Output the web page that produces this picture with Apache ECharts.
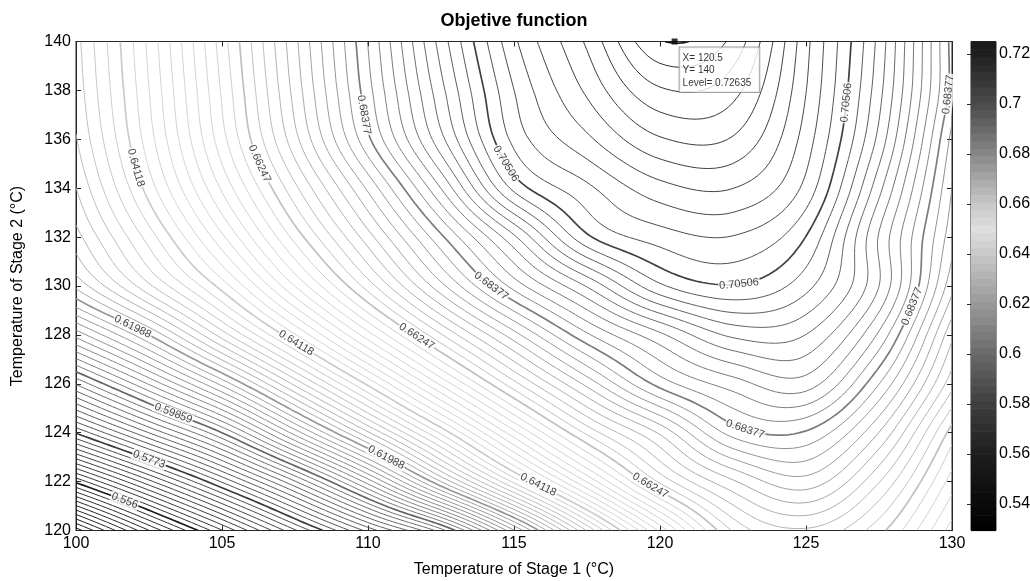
<!DOCTYPE html>
<html>
<head>
<meta charset="utf-8">
<title>Objetive function</title>
<script src="https://cdn.jsdelivr.net/npm/echarts@6.0.0/dist/echarts.min.js"></script>
<style>
html,body{margin:0;padding:0;background:#ffffff;}
#chart{width:1030px;height:581px;}
</style>
</head>
<body>
<div id="chart"></div>
<script>
// ---------------- data ----------------
// grid nodes (Temperature of Stage 1 along x, Temperature of Stage 2 along y)
const tempStage1 = [100, 102.5, 105, 107.5, 110, 112.5, 115, 117.5, 120, 122.5, 125, 127.5, 130];
const tempStage2 = [120, 122, 124, 126, 128, 130, 132, 134, 136, 138, 140];
// estimated objective-function value at each node, one row per Stage-2 temperature
const objAt120 = [0.5335, 0.5474, 0.5601, 0.5727, 0.5844, 0.5955, 0.6133, 0.6328, 0.6502, 0.6648, 0.6685, 0.6632, 0.6530];
const objAt122 = [0.5565, 0.5681, 0.5797, 0.5920, 0.6060, 0.6220, 0.6375, 0.6520, 0.6650, 0.6728, 0.6765, 0.6690, 0.6572];
const objAt124 = [0.5775, 0.5880, 0.5986, 0.6123, 0.6259, 0.6395, 0.6532, 0.6651, 0.6735, 0.6825, 0.6835, 0.6752, 0.6615];
const objAt126 = [0.5946, 0.6052, 0.6163, 0.6290, 0.6417, 0.6544, 0.6660, 0.6759, 0.6846, 0.6891, 0.6912, 0.6817, 0.6675];
const objAt128 = [0.6100, 0.6199, 0.6315, 0.6431, 0.6552, 0.6665, 0.6765, 0.6855, 0.6918, 0.6970, 0.6965, 0.6876, 0.6715];
const objAt130 = [0.6225, 0.6322, 0.6421, 0.6540, 0.6656, 0.6767, 0.6867, 0.6946, 0.7025, 0.7049, 0.7015, 0.6923, 0.6759];
const objAt132 = [0.6275, 0.6379, 0.6492, 0.6611, 0.6722, 0.6833, 0.6940, 0.7046, 0.7082, 0.7092, 0.7050, 0.6921, 0.6782];
const objAt134 = [0.6305, 0.6422, 0.6543, 0.6662, 0.6778, 0.6902, 0.7035, 0.7088, 0.7128, 0.7136, 0.7086, 0.6951, 0.6795];
const objAt136 = [0.6325, 0.6445, 0.6574, 0.6703, 0.6833, 0.6959, 0.7078, 0.7131, 0.7176, 0.7176, 0.7104, 0.6980, 0.6810];
const objAt138 = [0.6335, 0.6454, 0.6585, 0.6718, 0.6851, 0.6980, 0.7093, 0.7161, 0.7218, 0.7207, 0.7115, 0.6994, 0.6830];
const objAt140 = [0.6340, 0.6460, 0.6593, 0.6726, 0.6860, 0.6996, 0.7110, 0.7182, 0.7262, 0.7236, 0.7121, 0.7001, 0.6830];

// contour levels: labelled ones, with 10 levels per labelled step
const labeledLevels = [0.556, 0.5773, 0.59859, 0.61988, 0.64118, 0.66247, 0.68377, 0.70506, 0.72635];
const levelsPerLabel = 10;
const levelsBelowFirstLabel = 12;

// where the inline contour labels sit: [level, Stage1, Stage2]
const labelAnchors = [
  [0.556, 101.6, 121.25],
  [0.5773, 102.46, 122.95],
  [0.59859, 103.3, 124.72],
  [0.61988, 101.95, 128.33], [0.61988, 110.6, 122.93],
  [0.64118, 101.95, 134.8], [0.64118, 107.6, 127.65], [0.64118, 115.8, 121.86],
  [0.66247, 106.2, 135.0], [0.66247, 111.7, 127.86], [0.66247, 119.6, 121.8],
  [0.68377, 109.8, 137.0], [0.68377, 114.1, 129.75], [0.68377, 123.0, 124.04], [0.68377, 128.7, 129.2], [0.68377, 129.85, 137.8],
  [0.70506, 114.6, 134.95], [0.70506, 122.75, 130.25], [0.70506, 126.7, 137.5]
];

// data cursor
const dataTipX = 120.5, dataTipY = 140, dataTipLevel = 0.72635;

// axes / colour bar
const xTicks = [100, 105, 110, 115, 120, 125, 130];
const yTicks = [120, 122, 124, 126, 128, 130, 132, 134, 136, 138, 140];
const colorbarTicks = [0.54, 0.56, 0.58, 0.6, 0.62, 0.64, 0.66, 0.68, 0.7, 0.72];
const colorbarMin = 0.5294, colorbarMax = 0.7250;
const colorbarBands = 64;
// grey colormap: [value, grey level 0..255]
const grayStops = [[0.5294, 0], [0.545, 14], [0.56, 30], [0.58, 62], [0.60, 105], [0.62, 152],
                   [0.64, 200], [0.65, 222], [0.66, 200], [0.68, 135], [0.70, 75], [0.72, 32], [0.7264, 22]];

// ---------------- helpers ----------------
const FONT = "'Liberation Sans', Arial, Helvetica, sans-serif";
function grayOf(v) {
  if (v <= grayStops[0][0]) return grayStops[0][1];
  for (let k = 1; k < grayStops.length; k++) {
    if (v <= grayStops[k][0]) {
      const a = grayStops[k - 1], b = grayStops[k];
      return a[1] + (b[1] - a[1]) * (v - a[0]) / (b[0] - a[0]);
    }
  }
  return grayStops[grayStops.length - 1][1];
}
function rgbGray(g) { g = Math.round(Math.max(0, Math.min(255, g))); return 'rgb(' + g + ',' + g + ',' + g + ')'; }

const zRows = [objAt120, objAt122, objAt124, objAt126, objAt128, objAt130, objAt132, objAt134, objAt136, objAt138, objAt140];
const nx = tempStage1.length, ny = tempStage2.length;
function node(i, j) {
  if (i < 0) return 2 * node(0, j) - node(1, j);
  if (i > nx - 1) return 2 * node(nx - 1, j) - node(nx - 2, j);
  if (j < 0) return 2 * node(i, 0) - node(i, 1);
  if (j > ny - 1) return 2 * node(i, ny - 1) - node(i, ny - 2);
  return zRows[j][i];
}
function cr(p0, p1, p2, p3, t) {
  return 0.5 * (2 * p1 + (-p0 + p2) * t + (2 * p0 - 5 * p1 + 4 * p2 - p3) * t * t + (-p0 + 3 * p1 - 3 * p2 + p3) * t * t * t);
}
function sample(gx, gy) {
  let i0 = Math.floor(gx), j0 = Math.floor(gy);
  if (i0 > nx - 2) i0 = nx - 2;
  if (j0 > ny - 2) j0 = ny - 2;
  const tx = gx - i0, ty = gy - j0;
  const r = [];
  for (let dj = -1; dj <= 2; dj++) {
    r.push(cr(node(i0 - 1, j0 + dj), node(i0, j0 + dj), node(i0 + 1, j0 + dj), node(i0 + 2, j0 + dj), tx));
  }
  return cr(r[0], r[1], r[2], r[3], ty);
}

// fine field for the contour tracer
const F = 12;
const nxF = (nx - 1) * F + 1, nyF = (ny - 1) * F + 1;
const xF = [], yF = [], Z = [];
for (let i = 0; i < nxF; i++) xF.push(tempStage1[0] + (tempStage1[nx - 1] - tempStage1[0]) * i / (nxF - 1));
for (let j = 0; j < nyF; j++) yF.push(tempStage2[0] + (tempStage2[ny - 1] - tempStage2[0]) * j / (nyF - 1));
let zMin = Infinity, zMax = -Infinity;
for (let j = 0; j < nyF; j++) {
  const row = new Float64Array(nxF);
  for (let i = 0; i < nxF; i++) {
    const v = sample(i / F, j / F);
    row[i] = v;
    if (v < zMin) zMin = v;
    if (v > zMax) zMax = v;
  }
  Z.push(row);
}

// level list
const levels = [];
const step0 = (labeledLevels[1] - labeledLevels[0]) / levelsPerLabel;
for (let j = levelsBelowFirstLabel; j >= 1; j--) levels.push({ v: labeledLevels[0] - j * step0, lab: false });
for (let k = 0; k < labeledLevels.length - 1; k++) {
  const d = (labeledLevels[k + 1] - labeledLevels[k]) / levelsPerLabel;
  for (let j = 0; j < levelsPerLabel; j++) levels.push({ v: labeledLevels[k] + j * d, lab: j === 0 });
}
levels.push({ v: labeledLevels[labeledLevels.length - 1], lab: true });

// marching squares + chaining
function contour(L) {
  const segs = [];
  const hk = (i, j) => (j * nxF + i) * 2;      // edge (i,j)-(i+1,j)
  const vk = (i, j) => (j * nxF + i) * 2 + 1;  // edge (i,j)-(i,j+1)
  function ip(x1, y1, v1, x2, y2, v2) { const t = (L - v1) / (v2 - v1); return [x1 + (x2 - x1) * t, y1 + (y2 - y1) * t]; }
  for (let j = 0; j < nyF - 1; j++) {
    for (let i = 0; i < nxF - 1; i++) {
      const a = Z[j][i], b = Z[j][i + 1], c = Z[j + 1][i + 1], d = Z[j + 1][i];
      const cs = (a >= L ? 1 : 0) | (b >= L ? 2 : 0) | (c >= L ? 4 : 0) | (d >= L ? 8 : 0);
      if (cs === 0 || cs === 15) continue;
      const x0 = xF[i], x1 = xF[i + 1], y0 = yF[j], y1 = yF[j + 1];
      const E = [
        () => ({ k: hk(i, j), p: ip(x0, y0, a, x1, y0, b) }),
        () => ({ k: vk(i + 1, j), p: ip(x1, y0, b, x1, y1, c) }),
        () => ({ k: hk(i, j + 1), p: ip(x0, y1, d, x1, y1, c) }),
        () => ({ k: vk(i, j), p: ip(x0, y0, a, x0, y1, d) })
      ];
      const add = (e1, e2) => { const A = E[e1](), B = E[e2](); segs.push({ k: [A.k, B.k], p: [A.p, B.p] }); };
      const center = (a + b + c + d) / 4;
      switch (cs) {
        case 1: add(3, 0); break;
        case 2: add(0, 1); break;
        case 3: add(3, 1); break;
        case 4: add(1, 2); break;
        case 5: if (center >= L) { add(0, 1); add(2, 3); } else { add(3, 0); add(1, 2); } break;
        case 6: add(0, 2); break;
        case 7: add(3, 2); break;
        case 8: add(2, 3); break;
        case 9: add(0, 2); break;
        case 10: if (center >= L) { add(3, 0); add(1, 2); } else { add(0, 1); add(2, 3); } break;
        case 11: add(1, 2); break;
        case 12: add(3, 1); break;
        case 13: add(0, 1); break;
        case 14: add(3, 0); break;
      }
    }
  }
  const map = new Map();
  segs.forEach((s, idx) => { for (let e = 0; e < 2; e++) { const k = s.k[e]; if (!map.has(k)) map.set(k, []); map.get(k).push(idx); } });
  const used = new Uint8Array(segs.length);
  const lines = [];
  function walk(startIdx, startEnd) {
    const pts = [segs[startIdx].p[startEnd]];
    let idx = startIdx, end = startEnd;
    while (true) {
      used[idx] = 1;
      const s = segs[idx], other = 1 - end;
      pts.push(s.p[other]);
      const k = s.k[other];
      let next = -1;
      for (const n of map.get(k)) { if (!used[n]) { next = n; break; } }
      if (next < 0) break;
      end = segs[next].k[0] === k ? 0 : 1;
      idx = next;
    }
    return pts;
  }
  segs.forEach((s, idx) => {
    if (used[idx]) return;
    for (let e = 0; e < 2; e++) { if (map.get(s.k[e]).length === 1) { lines.push(walk(idx, e)); return; } }
  });
  segs.forEach((s, idx) => { if (!used[idx]) lines.push(walk(idx, 0)); });
  return lines;
}

const contourLines = [];   // {level, pts}
const lineData = [];
levels.forEach(lv => {
  if (lv.v <= zMin || lv.v >= zMax) return;
  const g = Math.min(grayOf(lv.v), 205);
  contour(lv.v).forEach(pts => {
    if (pts.length < 2) return;
    contourLines.push({ level: lv.v, pts: pts });
    lineData.push({ coords: pts, lineStyle: { color: rgbGray(g), width: lv.lab ? 1.7 : 0.9, opacity: 1 } });
  });
});

// colour bar bands
const bandData = [];
for (let b = 0; b < colorbarBands; b++) {
  const lo = colorbarMin + (colorbarMax - colorbarMin) * b / colorbarBands;
  const hi = colorbarMin + (colorbarMax - colorbarMin) * (b + 1) / colorbarBands;
  bandData.push([lo, hi]);
}

// ---------------- chart ----------------
const chart = echarts.init(document.getElementById('chart'), null, { renderer: 'canvas' });
const axisCommon = {
  axisLine: { show: true, onZero: false, lineStyle: { color: '#262626', width: 1 } },
  axisTick: { show: true, inside: true, length: 5, lineStyle: { color: '#262626', width: 1 } },
  splitLine: { show: false }
};

const option = {
  animation: false,
  backgroundColor: '#ffffff',
  title: {
    text: 'Objetive function', left: 514, top: 12, padding: 0, textAlign: 'center',
    textStyle: { fontFamily: FONT, fontSize: 18, fontWeight: 'bold', color: '#000' }
  },
  grid: [
    { left: 76, right: 78, top: 41.5, bottom: 50.5, show: true, borderColor: '#262626', borderWidth: 1, backgroundColor: '#fff', containLabel: false, outerBoundsMode: 'none' },
    { left: 971, width: 25, top: 41.5, bottom: 50.5, show: true, borderColor: '#262626', borderWidth: 1, containLabel: false, outerBoundsMode: 'none' }
  ],
  xAxis: [
    Object.assign({}, axisCommon, {
      gridIndex: 0, type: 'value', min: xTicks[0], max: xTicks[xTicks.length - 1], interval: 5, position: 'bottom',
      axisLabel: { show: true, fontFamily: FONT, fontSize: 16, color: '#000', margin: 5, showMinLabel: true, showMaxLabel: true },
      name: 'Temperature of Stage 1 (°C)', nameLocation: 'middle', nameGap: 31,
      nameTextStyle: { fontFamily: FONT, fontSize: 16, color: '#000' }
    }),
    Object.assign({}, axisCommon, {
      gridIndex: 0, type: 'value', min: xTicks[0], max: xTicks[xTicks.length - 1], interval: 5, position: 'top',
      axisLabel: { show: false }
    }),
    { gridIndex: 1, type: 'value', min: 0, max: 1, show: false }
  ],
  yAxis: [
    Object.assign({}, axisCommon, {
      gridIndex: 0, type: 'value', min: yTicks[0], max: yTicks[yTicks.length - 1], interval: 2, position: 'left',
      axisLabel: { show: true, fontFamily: FONT, fontSize: 16, color: '#000', margin: 5, showMinLabel: true, showMaxLabel: true },
      name: 'Temperature of Stage 2 (°C)', nameLocation: 'middle', nameGap: 50,
      nameTextStyle: { fontFamily: FONT, fontSize: 16, color: '#000' }
    }),
    Object.assign({}, axisCommon, {
      gridIndex: 0, type: 'value', min: yTicks[0], max: yTicks[yTicks.length - 1], interval: 2, position: 'right',
      axisLabel: { show: false }
    }),
    {
      gridIndex: 1, type: 'value', min: colorbarMin, max: colorbarMax, position: 'right',
      axisLine: { show: true, lineStyle: { color: '#262626' } },
      axisTick: { show: true, inside: true, length: 4, customValues: colorbarTicks, lineStyle: { color: '#262626' } },
      axisLabel: { show: true, customValues: colorbarTicks, fontFamily: FONT, fontSize: 16, color: '#000', margin: 3,
                   formatter: v => String(parseFloat(Number(v).toFixed(2))) },
      splitLine: { show: false }
    },
    {
      gridIndex: 1, type: 'value', min: colorbarMin, max: colorbarMax, position: 'left',
      axisLine: { show: true, lineStyle: { color: '#262626' } },
      axisTick: { show: true, inside: true, length: 4, customValues: colorbarTicks, lineStyle: { color: '#262626' } },
      axisLabel: { show: false },
      splitLine: { show: false }
    }
  ],
  series: [
    {
      type: 'lines', name: 'contours', coordinateSystem: 'cartesian2d', xAxisIndex: 0, yAxisIndex: 0,
      polyline: true, silent: true, z: 2, lineStyle: { opacity: 1 }, data: lineData
    },
    {
      type: 'custom', name: 'colorbar', xAxisIndex: 2, yAxisIndex: 2, silent: true, z: 2,
      data: bandData,
      renderItem: function (params, api) {
        const lo = api.value(0), hi = api.value(1);
        const p1 = api.coord([0, hi]), p2 = api.coord([1, lo]);
        return {
          type: 'rect',
          shape: { x: p1[0], y: p1[1], width: p2[0] - p1[0], height: p2[1] - p1[1] + 0.6 },
          style: { fill: rgbGray(grayOf((lo + hi) / 2)) }
        };
      }
    }
  ]
};
chart.setOption(option);

// contour labels placed on the traced contours, rotated along them
const p00 = chart.convertToPixel({ gridIndex: 0 }, [tempStage1[0], tempStage2[0]]);
const p11 = chart.convertToPixel({ gridIndex: 0 }, [tempStage1[nx - 1], tempStage2[ny - 1]]);
const sx = (p11[0] - p00[0]) / (tempStage1[nx - 1] - tempStage1[0]);
const sy = (p11[1] - p00[1]) / (tempStage2[ny - 1] - tempStage2[0]);
const labelData = [];
labelAnchors.forEach(an => {
  const L = an[0];
  let best = null, bd = Infinity;
  contourLines.forEach(cl => {
    if (Math.abs(cl.level - L) > 1e-7) return;
    cl.pts.forEach((p, idx) => {
      const dx = (p[0] - an[1]) * sx, dy = (p[1] - an[2]) * sy;
      const dd = dx * dx + dy * dy;
      if (dd < bd) { bd = dd; best = { pts: cl.pts, idx: idx }; }
    });
  });
  let pos = [an[1], an[2]], ang = 0;
  if (best) {
    const pts = best.pts;
    const i1 = Math.max(0, best.idx - 3), i2 = Math.min(pts.length - 1, best.idx + 3);
    const dxp = (pts[i2][0] - pts[i1][0]) * sx, dyp = (pts[i2][1] - pts[i1][1]) * sy;
    ang = Math.atan2(-dyp, dxp) * 180 / Math.PI;
    if (ang > 90) ang -= 180;
    if (ang <= -90) ang += 180;
    if (Math.sqrt(bd) < 25) pos = pts[best.idx];
  }
  labelData.push({ value: [pos[0], pos[1]], label: { rotate: ang, formatter: String(L) } });
});

chart.setOption({
  series: [
    option.series[0], option.series[1],
    {
      type: 'scatter', name: 'labels', xAxisIndex: 0, yAxisIndex: 0, silent: true, z: 5, clip: false,
      symbol: 'circle', symbolSize: 1, itemStyle: { color: 'rgba(0,0,0,0)' },
      label: { show: true, position: 'inside', fontFamily: FONT, fontSize: 11, color: '#111',
               backgroundColor: '#ffffff', padding: [0, 1] },
      labelLayout: { hideOverlap: false },
      data: labelData
    },
    {
      type: 'scatter', name: 'datatip', xAxisIndex: 0, yAxisIndex: 0, silent: true, z: 6, clip: false,
      symbol: 'rect', symbolSize: 6, itemStyle: { color: '#000' },
      label: {
        show: true, position: [8, 9], align: 'left', verticalAlign: 'top',
        formatter: 'X= ' + dataTipX + '\nY= ' + dataTipY + '\nLevel= ' + dataTipLevel,
        fontFamily: FONT, fontSize: 10, lineHeight: 12.5, color: '#000',
        backgroundColor: '#ffffff', borderColor: '#888', borderWidth: 1, padding: [4, 8, 3, 3]
      },
      data: [[dataTipX, dataTipY]]
    }
  ]
});
</script>
</body>
</html>
